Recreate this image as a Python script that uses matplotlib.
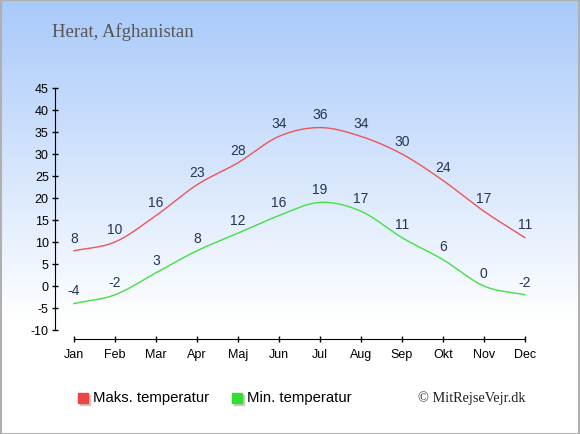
import numpy as np
import matplotlib.pyplot as plt
from matplotlib.patches import Rectangle

# ===== data =====
months = ['Jan', 'Feb', 'Mar', 'Apr', 'Maj', 'Jun',
          'Jul', 'Aug', 'Sep', 'Okt', 'Nov', 'Dec']
max_temp = [8, 10, 16, 23, 28, 34, 36, 34, 30, 24, 17, 11]
min_temp = [-4, -2, 3, 8, 12, 16, 19, 17, 11, 6, 0, -2]
y_ticks = [-10, -5, 0, 5, 10, 15, 20, 25, 30, 35, 40, 45]

RED = '#ee5555'
GREEN = '#44e044'
LABEL = '#233456'


def smooth(x, y, n=20):
    # catmull-rom curve through the points
    x = np.asarray(x, float)
    y = np.asarray(y, float)
    px = np.concatenate([[2 * x[0] - x[1]], x, [2 * x[-1] - x[-2]]])
    py = np.concatenate([[2 * y[0] - y[1]], y, [2 * y[-1] - y[-2]]])
    xs, ys = [], []
    t = np.linspace(0, 1, n, endpoint=False)
    for i in range(1, len(px) - 2):
        for p, out in ((px, xs), (py, ys)):
            p0, p1, p2, p3 = p[i - 1], p[i], p[i + 1], p[i + 2]
            out.extend(0.5 * (2 * p1 + (-p0 + p2) * t
                              + (2 * p0 - 5 * p1 + 4 * p2 - p3) * t ** 2
                              + (-p0 + 3 * p1 - 3 * p2 + p3) * t ** 3))
    xs.append(x[-1])
    ys.append(y[-1])
    return xs, ys


plt.rcParams['font.family'] = ['Liberation Sans', 'DejaVu Sans']
plt.rcParams['axes.unicode_minus'] = False

fig = plt.figure(figsize=(5.8, 4.35), dpi=100)

# background gradient
bg = fig.add_axes([0, 0, 1, 1], zorder=-10)
grad = np.linspace(0, 1, 256).reshape(-1, 1)
top = np.array([0.66, 0.79, 0.98])
bot = np.array([1.0, 1.0, 1.0])
frac = np.clip(grad * 1.35, 0, 1)
img = top * (1 - frac)[..., None] + bot * frac[..., None]
img = img.reshape(256, 1, 3)
bg.imshow(img, aspect='auto', extent=[0, 1, 0, 1], origin='upper')
bg.add_patch(Rectangle((0.001, 0.001), 0.998, 0.997, fill=False,
                       edgecolor='#b0b0b0', lw=1.5, transform=bg.transAxes))
bg.set_xlim(0, 1)
bg.set_ylim(0, 1)
bg.axis('off')

ax = fig.add_axes([55 / 580, 95 / 435, 485 / 580, 255.4 / 435])
ax.patch.set_alpha(0)

x = np.arange(len(months))
sx, sy = smooth(x, max_temp)
ax.plot(sx, sy, color=RED, lw=1)
sx, sy = smooth(x, min_temp)
ax.plot(sx, sy, color=GREEN, lw=1)

for xi, v in zip(x, max_temp):
    ax.annotate(str(v), (xi, v), xytext=(0, 9.5), textcoords='offset points',
                ha='center', va='center', fontsize=10, color=LABEL)
for xi, v in zip(x, min_temp):
    ax.annotate(str(v), (xi, v), xytext=(0, 9.5), textcoords='offset points',
                ha='center', va='center', fontsize=10, color=LABEL)

ax.set_xlim(-0.463, 11.37)
ax.set_ylim(-12.05, 46)
ax.set_xticks(x)
ax.set_xticklabels(months)
ax.set_yticks(y_ticks)

for s in ['top', 'right']:
    ax.spines[s].set_visible(False)
ax.spines['left'].set_bounds(-10, 45)
ax.spines['bottom'].set_bounds(0, 11)
ax.tick_params(axis='both', direction='inout', length=5, width=1,
               labelsize=9, colors='black')
ax.tick_params(axis='x', pad=4)
ax.tick_params(axis='y', pad=2)

fig.text(52 / 580, 1 - 32 / 435, 'Herat, Afghanistan', family='Liberation Serif',
         fontsize=13.5, color='#555555', va='center')

# legend
for px, col, txt in [(78, '#ee4444', 'Maks. temperatur'),
                     (232, '#33dd33', 'Min. temperatur')]:
    fig.patches.append(Rectangle(((px + 1.5) / 580, 1 - 405.5 / 435), 10 / 580, 10 / 435,
                                 transform=fig.transFigure, color='#c8c8c8'))
    fig.patches.append(Rectangle((px / 580, 1 - 404 / 435), 10 / 580, 10 / 435,
                                 transform=fig.transFigure, color=col))
    fig.text((px + 15) / 580, 1 - 398 / 435, txt, fontsize=10.7, va='center')

fig.text(526 / 580, 1 - 398 / 435, '© MitRejseVejr.dk', family='Liberation Serif',
         fontsize=10.3, ha='right', va='center', color='#222222')

fig.savefig('out.png', dpi=100)
